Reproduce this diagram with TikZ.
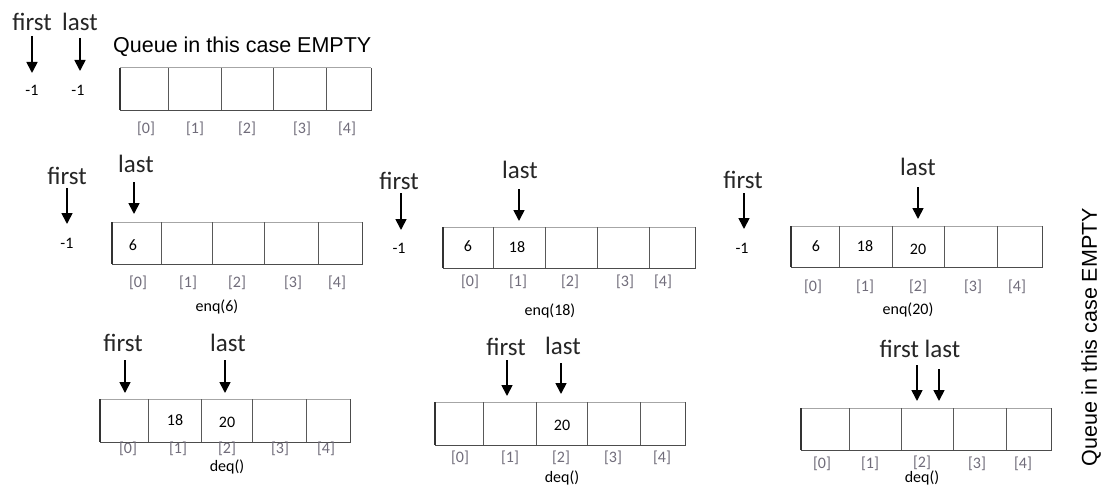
\documentclass[tikz,border=0pt]{standalone}
\usepackage{fontspec}
\setmainfont{Carlito}
\newfontfamily\arialf{Liberation Sans}
\usetikzlibrary{arrows.meta}
\definecolor{idxgray}{RGB}{112,108,122}
\newcommand\qarr[5]{% left, top, right, bottom, dividers
  \draw[black!35, line width=1pt] (#1,#2) -- (#3,#2);
  \draw[black!70, line width=1pt] (#1,#4) -- (#3,#4) -- (#3,#2);
  \foreach \d in {#5} \draw[black!65, line width=1pt] (\d,#2) -- (\d,#4);
  \draw[black!80, line width=2.4pt] (#1,#2) -- (#1,#4);
}
\begin{document}
\begin{tikzpicture}[x=1pt,y=-1pt,
  lbl/.style={font=\fontsize{25}{28}\selectfont, inner sep=0pt, text=black!85},
  sm/.style={font=\fontsize{16}{18}\selectfont, inner sep=0pt},
  idx/.style={font=\fontsize{16}{18}\selectfont, text=idxgray, inner sep=0pt},
  ptr/.style={-{Triangle[length=11pt,width=11pt]}, line width=1.7pt},
  title/.style={font=\arialf\fontsize{21.5}{24}\selectfont, inner sep=0pt},
  ]
\useasboundingbox[fill=white] (0,0) rectangle (1106,487);

% ---------- Panel 1 (empty) ----------
\node[lbl] (f1) at (32,22) {first};
\node[lbl] (l1) at (80,22) {last};
\coordinate (f1s) at (32,36); \coordinate (f1e) at (32,73);
\coordinate (l1s) at (80,38); \coordinate (l1e) at (80,71);
\draw[ptr] (f1s) -- (f1e);
\draw[ptr] (l1s) -- (l1e);
\node[sm] (fv1) at (32,90) {-1};
\node[sm] (lv1) at (78,90) {-1};
\node[title, anchor=west] (t1) at (113,47) {Queue in this case EMPTY};
\qarr{120}{68}{371}{110}{168,221,273,326}
\node[idx] (i10) at (146,129) {[0]};
\node[idx] (i11) at (195,129) {[1]};
\node[idx] (i12) at (247,129) {[2]};
\node[idx] (i13) at (302,129) {[3]};
\node[idx] (i14) at (347,129) {[4]};

% ---------- Panel 2A enq(6) ----------
\node[lbl] (f2) at (67,176) {first};
\node[lbl] (l2) at (136,164) {last};
\coordinate (f2s) at (67,188); \coordinate (f2e) at (67,224);
\coordinate (l2s) at (134,182); \coordinate (l2e) at (134,214);
\draw[ptr] (f2s) -- (f2e);
\draw[ptr] (l2s) -- (l2e);
\node[sm] (fv2) at (67,243) {-1};
\qarr{112}{222}{362}{264}{161,212,264,318}
\node[sm] (c20) at (133,245) {6};
\node[idx] (i20) at (138,283) {[0]};
\node[idx] (i21) at (188,283) {[1]};
\node[idx] (i22) at (237,283) {[2]};
\node[idx] (i23) at (293,283) {[3]};
\node[idx] (i24) at (337,283) {[4]};
\node[sm] (op2) at (217,307) {enq(6)};

% ---------- Panel 2B enq(18) ----------
\node[lbl] (f3) at (399,181) {first};
\node[lbl] (l3) at (520,170) {last};
\coordinate (f3s) at (401,193); \coordinate (f3e) at (401,230);
\coordinate (l3s) at (519,189); \coordinate (l3e) at (519,221);
\draw[ptr] (f3s) -- (f3e);
\draw[ptr] (l3s) -- (l3e);
\node[sm] (fv3) at (399,248) {-1};
\qarr{443}{227}{695}{268}{493,545,597,649}
\node[sm] (c30) at (468,246) {6};
\node[sm] (c31) at (517,247) {18};
\node[idx] (i30) at (470,282) {[0]};
\node[idx] (i31) at (518,282) {[1]};
\node[idx] (i32) at (570,282) {[2]};
\node[idx] (i33) at (625,282) {[3]};
\node[idx] (i34) at (663,282) {[4]};
\node[sm] (op3) at (550,311) {enq(18)};

% ---------- Panel 2C enq(20) ----------
\node[lbl] (f4) at (743,180) {first};
\node[lbl] (l4) at (918,167) {last};
\coordinate (f4s) at (744,193); \coordinate (f4e) at (744,229);
\coordinate (l4s) at (918,187); \coordinate (l4e) at (918,219);
\draw[ptr] (f4s) -- (f4e);
\draw[ptr] (l4s) -- (l4e);
\node[sm] (fv4) at (742,248) {-1};
\qarr{791}{226}{1042}{267}{839,892,944,997}
\node[sm] (c40) at (816,246) {6};
\node[sm] (c41) at (865,246) {18};
\node[sm] (c42) at (918,249) {20};
\node[idx] (i40) at (813,287) {[0]};
\node[idx] (i41) at (865,287) {[1]};
\node[idx] (i42) at (918,287) {[2]};
\node[idx] (i43) at (973,287) {[3]};
\node[idx] (i44) at (1017,287) {[4]};
\node[sm] (op4) at (908,310) {enq(20)};

% ---------- Panel 3A deq() ----------
\node[lbl] (f5) at (123,343) {first};
\node[lbl] (l5) at (228,343) {last};
\coordinate (f5s) at (125,360); \coordinate (f5e) at (125,393);
\coordinate (l5s) at (225,360); \coordinate (l5e) at (225,393);
\draw[ptr] (f5s) -- (f5e);
\draw[ptr] (l5s) -- (l5e);
\qarr{100}{399}{350}{442}{148,201,252,306}
\node[sm] (c51) at (175,420) {18};
\node[sm] (c52) at (227,422) {20};
\node[idx] (i50) at (128,449) {[0]};
\node[idx] (i51) at (178,449) {[1]};
\node[idx] (i52) at (227,449) {[2]};
\node[idx] (i53) at (280,449) {[3]};
\node[idx] (i54) at (326,449) {[4]};
\node[sm] (op5) at (227,467) {deq()};

% ---------- Panel 3B deq() ----------
\node[lbl] (f6) at (506,347) {first};
\node[lbl] (l6) at (563,346) {last};
\coordinate (f6s) at (507,360); \coordinate (f6e) at (507,396);
\coordinate (l6s) at (561,363); \coordinate (l6e) at (561,394);
\draw[ptr] (f6s) -- (f6e);
\draw[ptr] (l6s) -- (l6e);
\qarr{435}{402}{685}{445}{483,536,587,640}
\node[sm] (c62) at (562,425) {20};
\node[idx] (i60) at (460,458) {[0]};
\node[idx] (i61) at (510,458) {[1]};
\node[idx] (i62) at (561,458) {[2]};
\node[idx] (i63) at (613,458) {[3]};
\node[idx] (i64) at (662,458) {[4]};
\node[sm] (op6) at (562,478) {deq()};

% ---------- Panel 3C deq() (empty) ----------
\node[lbl] (fl7) at (920,349) {first last};
\coordinate (f7s) at (917,365); \coordinate (f7e) at (917,401);
\coordinate (l7s) at (939,369); \coordinate (l7e) at (939,401);
\draw[ptr] (f7s) -- (f7e);
\draw[ptr] (l7s) -- (l7e);
\qarr{801}{408}{1051}{450}{849,901,953,1006}
\node[idx] (i70) at (822,464) {[0]};
\node[idx] (i71) at (870,464) {[1]};
\node[idx] (i72) at (922,463) {[2]};
\node[idx] (i73) at (977,464) {[3]};
\node[idx] (i74) at (1023,464) {[4]};
\node[sm] (op7) at (922,478) {deq()};

% ---------- rotated title ----------
\node[title, rotate=90] (t2) at (1091,337) {Queue in this case EMPTY};
\end{tikzpicture}
\end{document}
